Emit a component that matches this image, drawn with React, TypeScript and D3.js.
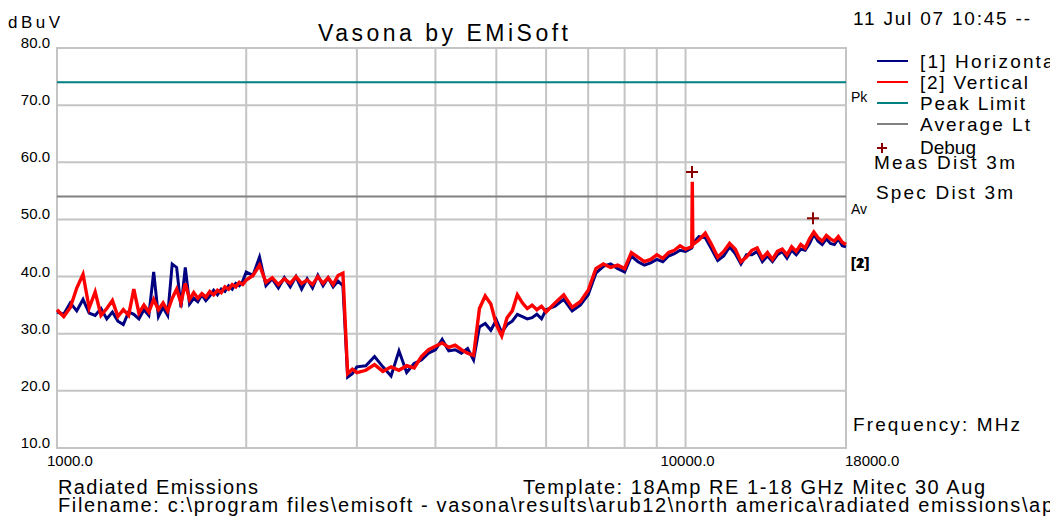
import React from "react";
import * as d3 from "d3";

// frequencies in MHz
const freqs = [
  1000, 1025, 1050, 1075, 1100, 1125, 1150, 1175, 1200, 1225, 1250, 1275, 1300, 1325, 1350, 1375, 1400, 1425, 1450, 1475,
  1500, 1525, 1550, 1575, 1600, 1625, 1650, 1675, 1700, 1725, 1750, 1775, 1800, 1825, 1850, 1875, 1900, 1925, 1950, 1975, 2000,
  2050, 2100, 2150, 2200, 2250, 2300, 2350, 2400, 2450, 2500, 2550, 2600, 2650, 2700, 2750, 2800, 2850, 2900, 2950, 3000,
  3100, 3200, 3300, 3400, 3500, 3600, 3700, 3800, 3900, 4000, 4100, 4200, 4300, 4400, 4500, 4600, 4700, 4800, 4900, 5000,
  5100, 5200, 5300, 5400, 5500, 5600, 5700, 5800, 5900, 6000,
  6200, 6400, 6600, 6800, 7000, 7200, 7400, 7600, 7800, 8000, 8200, 8400, 8600, 8800, 9000, 9200, 9400, 9600, 9800, 10000,
  10230, 10250, 10270, 10500, 10750, 11000, 11250, 11500, 11750, 12000, 12250, 12500, 12750, 13000, 13250, 13500, 13750,
  14000, 14250, 14500, 14750, 15000, 15250, 15500, 15750, 16000, 16250, 16500, 16750, 17000, 17250, 17500, 17750, 18000,
];

// [1] Horizontal, dBuV
const horizontal = [
  33.8, 33.4, 35.4, 34.0, 36.0, 33.6, 33.2, 34.4, 32.6, 33.8, 32.2, 31.6, 33.8, 33.4, 32.6, 34.2, 33.2, 40.8, 33.0, 34.6,
  33.2, 42.2, 41.6, 34.6, 41.6, 35.2, 36.2, 35.6, 36.8, 35.8, 36.6, 37.6, 36.8, 37.8, 37.4, 38.4, 37.8, 38.8, 38.4, 39.2, 40.8,
  40.2, 43.4, 38.4, 39.6, 38.0, 39.8, 38.2, 40.0, 37.8, 39.6, 38.0, 40.2, 38.4, 39.8, 38.2, 39.2, 38.4, 22.4, 23.0, 24.2,
  24.4, 26.0, 24.2, 22.6, 27.0, 23.2, 24.8, 25.4, 26.6, 27.2, 29.0, 27.0, 27.2, 26.6, 27.4, 25.4, 31.2, 31.8, 30.6, 32.4,
  30.2, 31.6, 32.2, 33.4, 33.0, 32.6, 32.8, 33.4, 32.6, 34.2,
  34.8, 36.0, 34.0, 35.0, 36.8, 40.6, 41.8, 42.2, 41.4, 40.8, 43.6, 42.6, 42.0, 42.4, 43.0, 42.6, 43.6, 44.0, 44.6, 44.4,
  45.0, 45.4, 45.8, 47.0, 46.8, 44.8, 42.8, 43.6, 45.2, 44.0, 42.2, 43.8, 43.8, 44.4, 42.6, 43.6, 42.6,
  43.8, 44.4, 43.2, 44.6, 43.8, 44.8, 44.6, 45.8, 47.4, 46.2, 45.6, 46.6, 45.8, 45.6, 46.6, 45.4, 45.2,
];

// [2] Vertical, dBuV
const vertical = [
  34.2, 33.0, 34.6, 38.0, 40.4, 34.5, 37.3, 33.2, 34.4, 35.8, 33.0, 34.2, 33.2, 37.8, 33.6, 35.0, 33.8, 36.0, 34.2, 35.4,
  34.0, 36.2, 37.8, 35.4, 38.8, 36.0, 37.2, 36.2, 37.0, 36.4, 37.4, 36.8, 37.6, 37.2, 38.2, 37.8, 38.6, 38.2, 39.0, 38.6, 39.4,
  40.2, 42.0, 39.0, 39.8, 38.6, 39.6, 38.8, 40.0, 38.8, 39.4, 38.6, 40.0, 38.8, 39.8, 38.6, 40.2, 40.6, 23.0, 23.8, 23.2,
  23.6, 24.6, 23.4, 24.2, 23.6, 24.4, 24.0, 26.0, 27.2, 27.8, 28.4, 27.6, 28.0, 27.2, 26.6, 26.2, 34.4, 36.6, 35.2, 31.6,
  29.6, 32.8, 34.0, 36.8, 35.4, 34.4, 35.0, 34.2, 34.8, 33.8,
  35.4, 36.8, 34.6, 35.6, 37.6, 41.4, 42.2, 41.6, 42.0, 41.4, 44.2, 43.4, 42.6, 43.0, 43.8, 43.2, 44.2, 44.6, 45.4, 44.8,
  45.2, 56.6, 45.6, 46.4, 47.6, 45.6, 43.4, 44.4, 45.8, 44.8, 42.6, 43.4, 44.6, 45.0, 43.2, 44.2, 43.0,
  44.4, 44.8, 43.8, 45.2, 44.4, 45.6, 45.0, 46.6, 47.8, 46.8, 46.2, 47.2, 46.6, 46.2, 47.0, 46.0, 45.6,
];

const yTicks = [80, 70, 60, 50, 40, 30, 20, 10];
const gridFreqs = [2000, 3000, 4000, 5000, 6000, 7000, 8000, 9000, 10000];
const xTickLabels = [1000, 10000, 18000];
const peakLimit = 74;
const averageLimit = 54;
const debugFreqs = [10240, 15950];
const debugLevels = [58.3, 50.2];

const legendItems = [
  { label: "[1] Horizontal", color: "#000080" },
  { label: "[2] Vertical", color: "#ff0000" },
  { label: "Peak Limit", color: "#008080" },
  { label: "Average Lt", color: "#808080" },
];

const FONT = "'Liberation Sans', Arial, sans-serif";

export default function App() {
  const left = 57, right = 846, top = 48, bottom = 448;
  const x = d3.scaleLog().domain([1000, 18000]).range([left, right]);
  const y = d3.scaleLinear().domain([10, 80]).range([bottom, top]);

  const line = d3
    .line<number>()
    .x((_, i) => x(freqs[i]))
    .y((d) => y(d));

  const grid = "#c4c4c4";

  return (
    <svg
      width={1050}
      height={519}
      style={{ position: "absolute", left: 0, top: 0, background: "#fff" }}
      fontFamily={FONT}
    >
      <rect x={0} y={0} width={1050} height={519} fill="#fff" />

      {/* grid */}
      {yTicks.slice(1, -1).map((t) => (
        <line key={"h" + t} x1={left} x2={right} y1={y(t)} y2={y(t)} stroke={grid} strokeWidth={2} />
      ))}
      {gridFreqs.map((f) => (
        <line key={"v" + f} x1={x(f)} x2={x(f)} y1={top} y2={bottom} stroke={grid} strokeWidth={2} />
      ))}
      <rect x={left} y={top} width={right - left} height={bottom - top} fill="none" stroke={grid} strokeWidth={2} />

      {/* limits */}
      <line x1={left} x2={right} y1={y(peakLimit)} y2={y(peakLimit)} stroke="#008080" strokeWidth={2} />
      <line x1={left} x2={right} y1={y(averageLimit)} y2={y(averageLimit)} stroke="#808080" strokeWidth={2} />

      {/* traces */}
      <path d={line(horizontal) ?? ""} fill="none" stroke="#000080" strokeWidth={3} strokeLinejoin="miter" />
      <path d={line(vertical) ?? ""} fill="none" stroke="#ff0000" strokeWidth={3.4} strokeLinejoin="miter" />

      {/* debug markers */}
      {debugFreqs.map((f, i) => (
        <g key={"m" + i} transform={`translate(${x(f)},${y(debugLevels[i])})`} stroke="#8b0000" strokeWidth={2}>
          <line x1={-6} x2={6} y1={0} y2={0} />
          <line x1={0} x2={0} y1={-6} y2={6} />
        </g>
      ))}

      {/* y labels */}
      {yTicks.map((t) => (
        <text key={"yl" + t} x={50} y={y(t)} textAnchor="end" fontSize={15}>
          {t.toFixed(1)}
        </text>
      ))}
      <text x={8} y={28} fontSize={17} textLength={52}>dBuV</text>

      {/* x labels */}
      {xTickLabels.map((t, i) => (
        <text
          key={"xl" + t}
          x={i === 0 ? 47 : i === 1 ? x(t) + 2 : x(t) - 1}
          y={466}
          textAnchor={i === 1 ? "middle" : "start"}
          fontSize={15}
        >
          {t.toFixed(1)}
        </text>
      ))}

      <text x={318} y={41} fontSize={23} textLength={250}>Vasona by EMiSoft</text>
      <text x={853} y={25} fontSize={19} textLength={177}>11 Jul 07 10:45 --</text>

      {/* legend */}
      {legendItems.map((d, i) => (
        <g key={d.label}>
          <line x1={877} x2={908} y1={61 + i * 21} y2={61 + i * 21} stroke={d.color} strokeWidth={2} />
          <text x={920} y={68 + i * 21} fontSize={19} textLength={i === 0 ? 140 : i === 1 ? 108 : i === 2 ? 105 : 110}>
            {d.label}
          </text>
        </g>
      ))}
      <g transform="translate(882,148)" stroke="#8b0000" strokeWidth={2}>
        <line x1={-5} x2={5} y1={0} y2={0} />
        <line x1={0} x2={0} y1={-5} y2={5} />
      </g>
      <text x={920} y={154} fontSize={19}>Debug</text>
      <text x={874} y={169} fontSize={19} textLength={141}>Meas Dist 3m</text>
      <text x={876} y={199} fontSize={19} textLength={137}>Spec Dist 3m</text>

      <text x={851} y={102} fontSize={14}>Pk</text>
      <text x={851} y={214} fontSize={14}>Av</text>
      <text x={851} y={268} fontSize={15} fontWeight="bold">[1]</text>
      <text x={851} y={268} fontSize={15} fontWeight="bold">[2]</text>

      <text x={853} y={431} fontSize={19} textLength={167}>Frequency: MHz</text>

      <text x={58} y={494} fontSize={20} textLength={200}>Radiated Emissions</text>
      <text x={523} y={494} fontSize={20} textLength={462}>Template: 18Amp RE 1-18 GHz Mitec 30 Aug</text>
      <text x={58} y={512} fontSize={20} textLength={995}>
        {"Filename: c:\\program files\\emisoft - vasona\\results\\arub12\\north america\\radiated emissions\\ap"}
      </text>
    </svg>
  );
}
